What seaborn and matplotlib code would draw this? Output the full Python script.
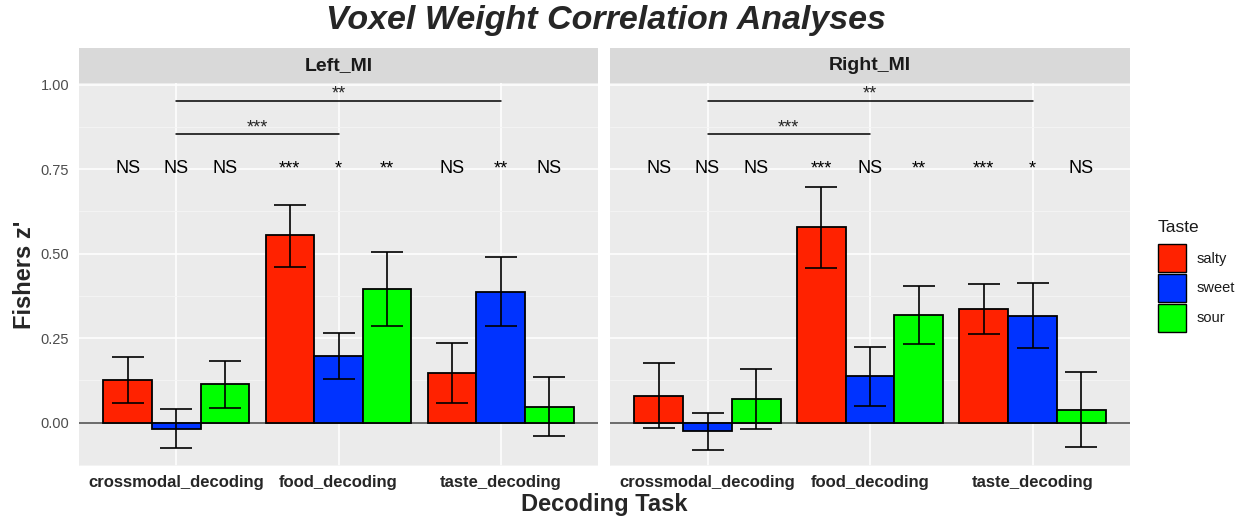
import numpy as np
import pandas as pd
import matplotlib
matplotlib.use("Agg")
import matplotlib.pyplot as plt
from matplotlib.patches import Patch, Rectangle
from matplotlib.ticker import MultipleLocator
import seaborn as sns

# data
tasks = ["crossmodal_decoding", "food_decoding", "taste_decoding"]
tastes = ["salty", "sweet", "sour"]
panels = ["Left_MI", "Right_MI"]
colors = ["#FF2200", "#0033FF", "#00FF00"]

# means, ordered task by task, taste within task
left_mean = [0.125, -0.018, 0.114, 0.555, 0.198, 0.395, 0.148, 0.388, 0.048]
left_low = [0.058, -0.075, 0.045, 0.462, 0.130, 0.286, 0.058, 0.287, -0.040]
left_high = [0.193, 0.040, 0.183, 0.645, 0.266, 0.505, 0.236, 0.490, 0.136]
left_sig = ["NS", "NS", "NS", "***", "*", "**", "NS", "**", "NS"]

right_mean = [0.080, -0.024, 0.070, 0.578, 0.137, 0.319, 0.337, 0.317, 0.038]
right_low = [-0.017, -0.080, -0.018, 0.457, 0.050, 0.234, 0.263, 0.222, -0.073]
right_high = [0.177, 0.030, 0.158, 0.697, 0.224, 0.404, 0.410, 0.413, 0.150]
right_sig = ["NS", "NS", "NS", "***", "NS", "**", "***", "*", "NS"]

# pairwise comparisons between tasks: (task a, task b, y, label)
brackets = [(0, 2, 0.953, "**"), (0, 1, 0.853, "***")]

rows = []
for p, m, lo, hi, sg in [(panels[0], left_mean, left_low, left_high, left_sig),
                         (panels[1], right_mean, right_low, right_high, right_sig)]:
    k = 0
    for t in tasks:
        for s in tastes:
            rows.append(dict(panel=p, task=t, taste=s, z=m[k], lo=lo[k], hi=hi[k], sig=sg[k]))
            k += 1
df = pd.DataFrame(rows)

sns.set_style("darkgrid")
plt.rcParams["font.family"] = ["Liberation Sans", "DejaVu Sans"]

fig = plt.figure(figsize=(12.45, 5.2), dpi=100)
W, H = 1245, 520
bot = 1 - 466 / H
top = 1 - 83 / H
axes = [fig.add_axes([79 / W, bot, (598 - 79) / W, top - bot]),
        fig.add_axes([610 / W, bot, (1130 - 610) / W, top - bot])]

for ax, p in zip(axes, panels):
    d = df[df.panel == p]
    ax.set_facecolor("#EBEBEB")
    sns.barplot(data=d, x="task", y="z", hue="taste", order=tasks, hue_order=tastes,
                palette=colors, errorbar=None, width=0.9, edgecolor="black",
                linewidth=1.3, saturation=1, legend=False, ax=ax, zorder=3)
    ax.axhline(0, color="#444444", lw=1.1, zorder=2)
    bar_groups = list(ax.containers)
    for hi_, cont in enumerate(bar_groups):
        sub = d[d.taste == tastes[hi_]].set_index("task").loc[tasks]
        xs = [b.get_x() + b.get_width() / 2 for b in cont]
        ax.errorbar(xs, sub.z, yerr=[sub.z - sub.lo, sub.hi - sub.z], fmt="none",
                    ecolor="black", elinewidth=1.2, capsize=11.5, capthick=1.2, zorder=4)
        for x, s in zip(xs, sub.sig):
            ax.text(x, 0.752, s, ha="center", va="center", fontsize=13, color="black", zorder=5)
    for a, b, y, lab in brackets:
        ax.plot([a, b], [y, y], color="black", lw=1.1, zorder=5)
        ax.text((a + b) / 2, y + 0.02, lab, ha="center", va="center", fontsize=13, zorder=5)

    ax.set_xlim(-0.6, 2.6)
    ax.set_ylim(-0.128, 1.005)
    ax.yaxis.set_major_locator(MultipleLocator(0.25))
    ax.yaxis.set_minor_locator(MultipleLocator(0.125))
    ax.grid(which="major", color="white", lw=1.1)
    ax.grid(which="minor", axis="y", color="#F5F5F5", lw=0.6)
    ax.set_axisbelow(True)
    for sp in ax.spines.values():
        sp.set_visible(False)
    ax.tick_params(axis="both", which="major", length=3.5, color="#333333", width=0.8)
    ax.tick_params(axis="y", which="minor", length=0)
    ax.tick_params(axis="x", labelsize=12, pad=3)
    for lbl in ax.get_xticklabels():
        lbl.set_fontweight("bold")
    ax.set_xlabel("")
    ax.set_ylabel("")
    # facet strip
    strip_h = 35 / (466 - 83)
    ax.add_patch(Rectangle((0, 1), 1, strip_h, transform=ax.transAxes, facecolor="#D9D9D9",
                           edgecolor="none", clip_on=False))
    ax.text(0.5, 1 + strip_h / 2, p, transform=ax.transAxes, ha="center", va="center",
            fontsize=14, fontweight="bold", color="#1A1A1A")

axes[0].set_yticks([0, 0.25, 0.5, 0.75, 1.0])
axes[0].set_yticklabels(["0.00", "0.25", "0.50", "0.75", "1.00"], color="#4D4D4D", fontsize=10.5)
axes[1].set_yticklabels([])
axes[1].tick_params(axis="y", which="major", length=0)
axes[0].set_ylabel("Fishers z'", fontsize=17, fontweight="bold", labelpad=3)

fig.text(604 / W, 1 - 505 / H, "Decoding Task", ha="center", va="center",
         fontsize=17, fontweight="bold")
fig.text(606 / W, 1 - 21 / H, "Voxel Weight Correlation Analyses", ha="center", va="center",
         fontsize=24.5, fontweight="bold", fontstyle="italic")

# legend: title as its own text so the gap to the keys matches
fig.text(1158 / W, 1 - 227 / H, "Taste", ha="left", va="center", fontsize=12.5, color="#1A1A1A")
handles = [Patch(facecolor=c, edgecolor="black", linewidth=1.0, label=t) for c, t in zip(colors, tastes)]
leg = fig.legend(handles=handles, loc="upper left", frameon=False,
                 bbox_to_anchor=(1158 / W, 1 - 244 / H), borderpad=0, borderaxespad=0,
                 fontsize=10.5, handlelength=1.95, handleheight=2.6, labelspacing=0.12,
                 handletextpad=0.7)
for t in leg.get_texts():
    t.set_color("#1A1A1A")

fig.savefig("out.png", dpi=100)
